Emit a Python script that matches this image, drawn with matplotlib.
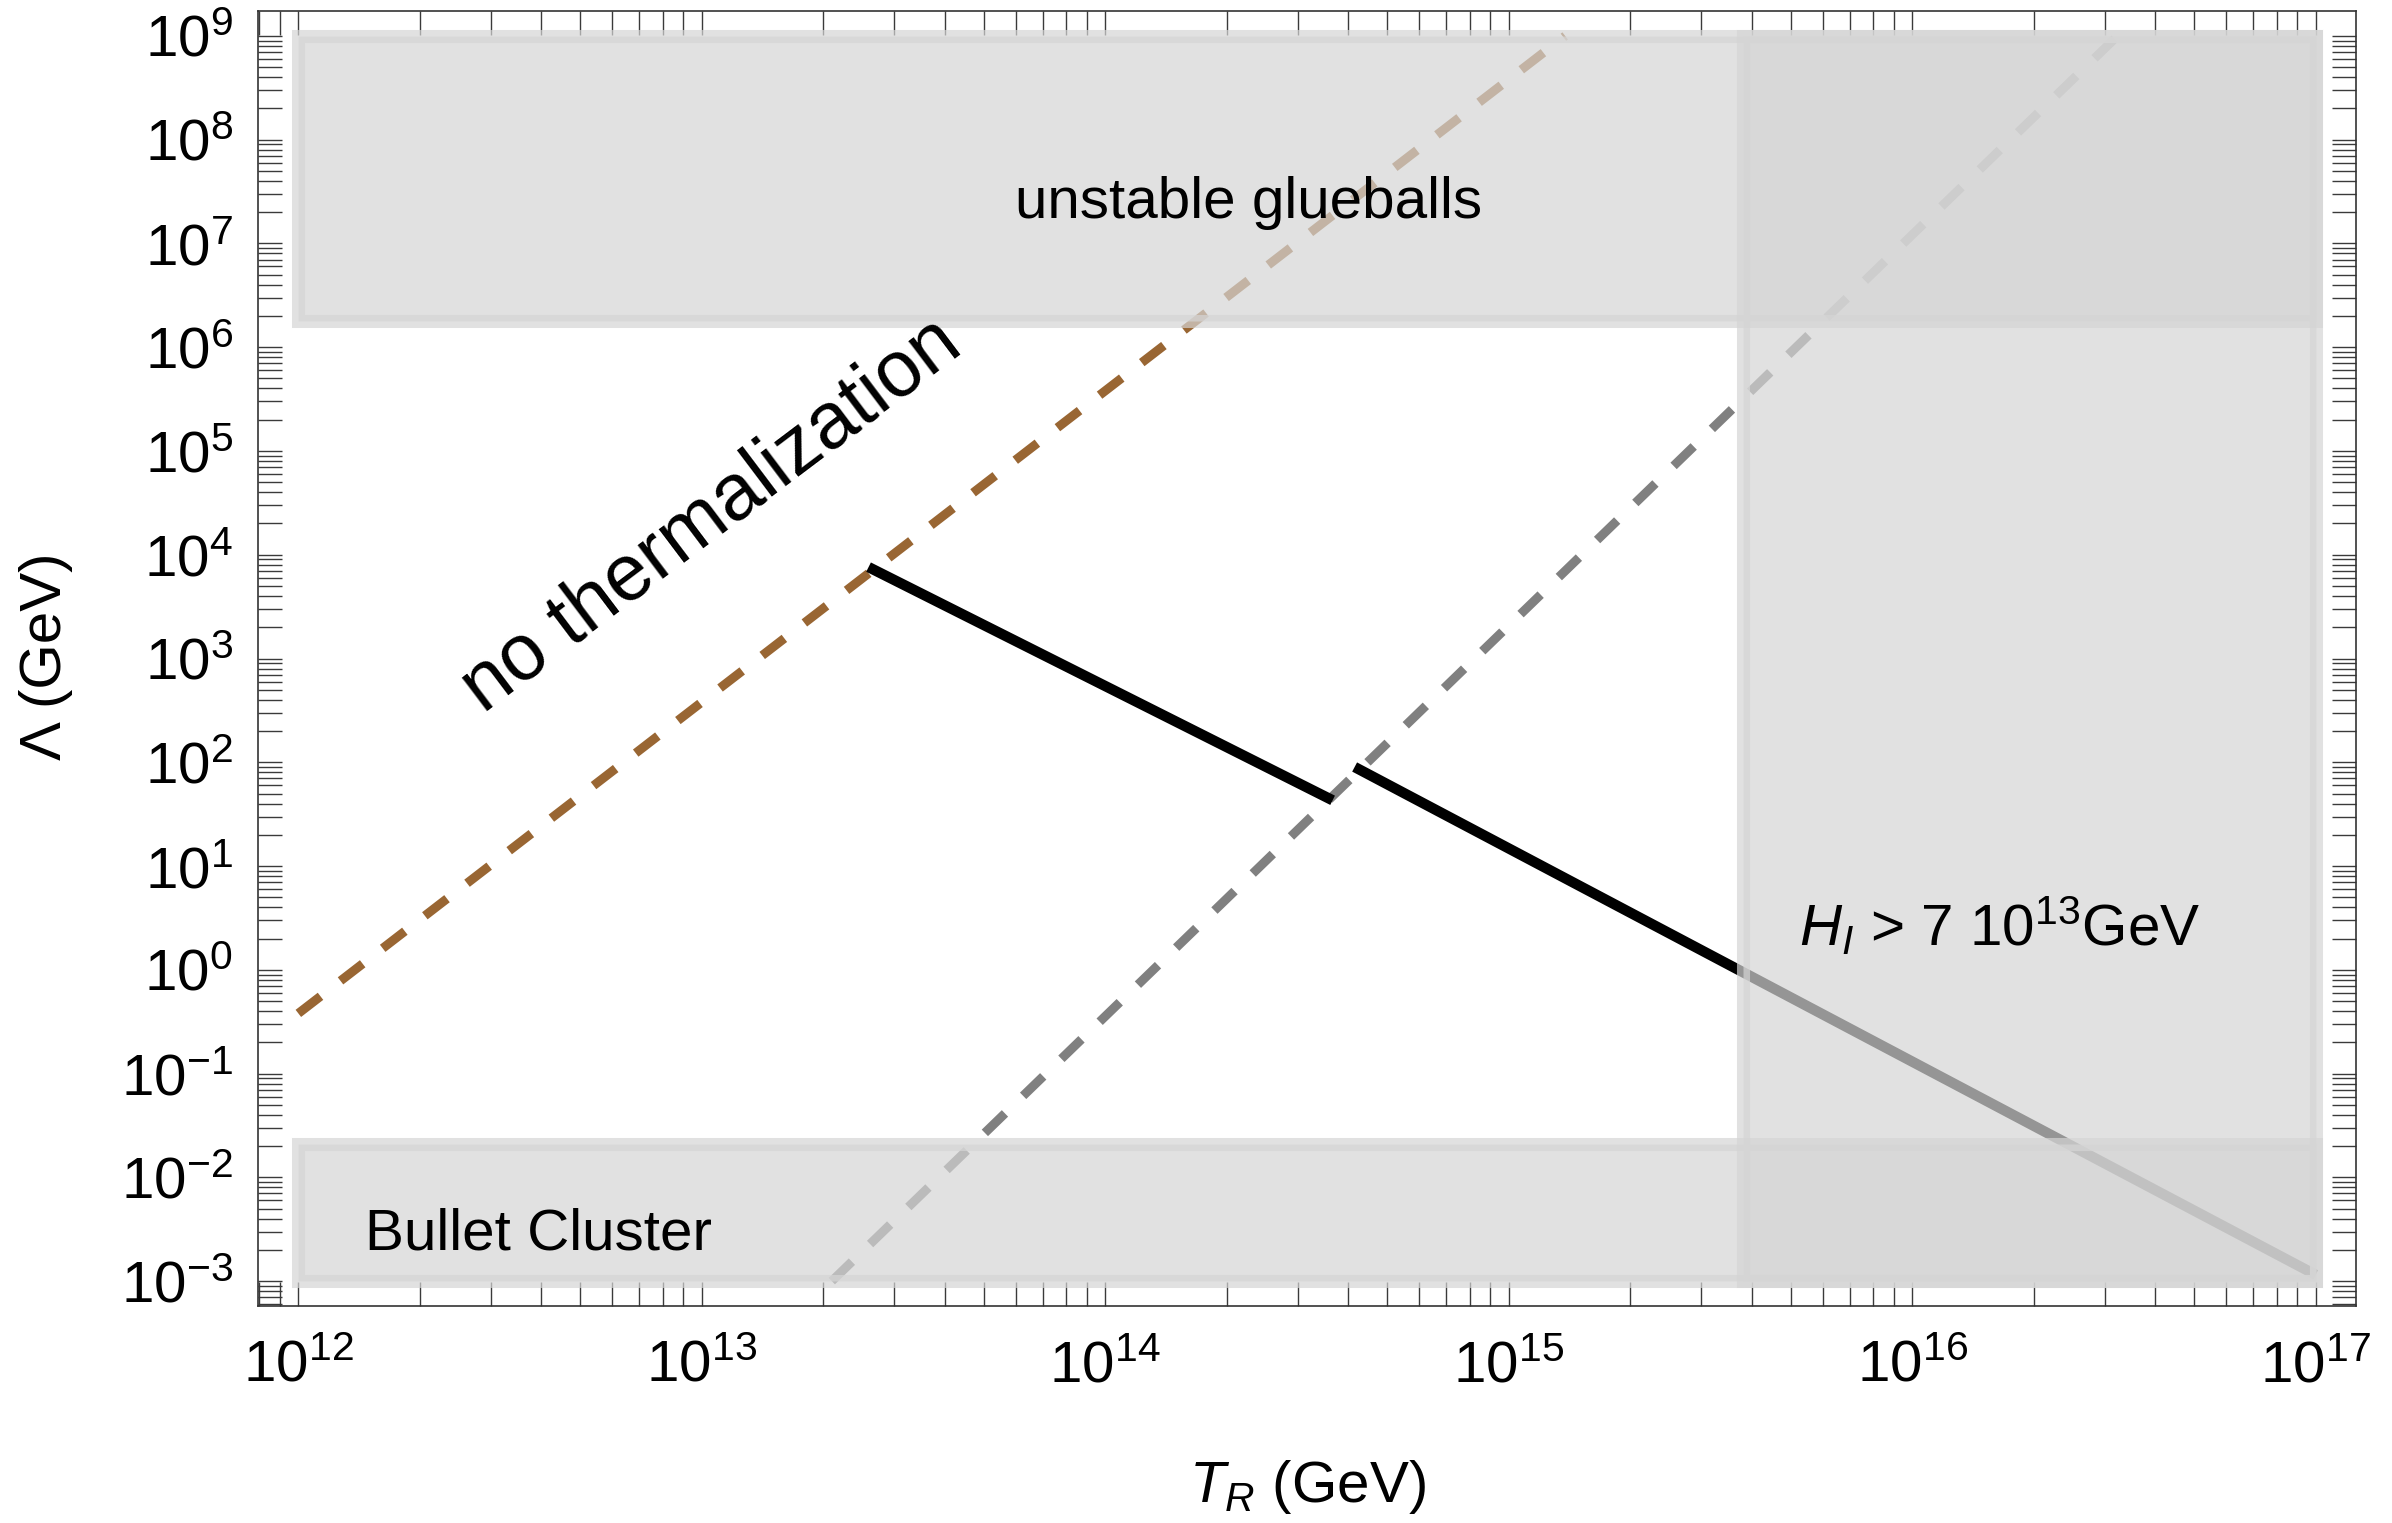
import matplotlib
matplotlib.use("Agg")
import matplotlib.pyplot as plt
from matplotlib.ticker import LogLocator, FixedLocator, FixedFormatter, NullFormatter

plt.rcParams['font.family'] = ['Liberation Sans', 'DejaVu Sans']
plt.rcParams['mathtext.fontset'] = 'custom'
plt.rcParams['mathtext.rm'] = 'Liberation Sans'
plt.rcParams['mathtext.it'] = 'Liberation Sans:italic'
plt.rcParams['mathtext.bf'] = 'Liberation Sans:bold'

# ---------------- data ----------------
x_limits = [10**11.9, 10**17.1]
y_limits = [10**-3.24, 10**9.24]

x_major = [1e12, 1e13, 1e14, 1e15, 1e16, 1e17]
x_major_labels = ['$10^{12}$', '$10^{13}$', '$10^{14}$', '$10^{15}$', '$10^{16}$', '$10^{17}$']
y_major = [1e-3, 1e-2, 1e-1, 1e0, 1e1, 1e2, 1e3, 1e4, 1e5, 1e6, 1e7, 1e8, 1e9]
y_major_labels = ['$10^{-3}$', '$10^{-2}$', '$10^{-1}$', '$10^{0}$', '$10^{1}$', '$10^{2}$',
                  '$10^{3}$', '$10^{4}$', '$10^{5}$', '$10^{6}$', '$10^{7}$', '$10^{8}$', '$10^{9}$']

# no-thermalization boundary (brown dashed)
T_nothermal = [1e12, 1.38e15]
L_nothermal = [0.38, 1e9]
# gray dashed line
T_gray = [2.1e13, 3.23e16]
L_gray = [1e-3, 1e9]
# black solid segments
T_black1 = [2.59e13, 3.66e14]
L_black1 = [7.6e3, 43.0]
T_black2 = [4.15e14, 1e17]
L_black2 = [90.0, 1.15e-3]

# excluded regions: (T_min, T_max, L_min, L_max)
glueball_box = [1e12, 1e17, 1.8e6, 1e9]
bullet_box = [1e12, 1e17, 1e-3, 0.021]
hubble_box = [3.8e15, 1e17, 1e-3, 1e9]

# ---------------- figure ----------------
W, H = 2392, 1523
fig = plt.figure(figsize=(W / 100, H / 100), dpi=100)
left, right, top, bottom = 258, 2356, 11, 1306
ax = fig.add_axes([left / W, 1 - bottom / H, (right - left) / W, (bottom - top) / H])
ax.set_xscale('log')
ax.set_yscale('log')
ax.set_xlim(*x_limits)
ax.set_ylim(*y_limits)

brown = '#996633'
dash_lw = 6.5
dash_pat = (0, (3.1, 2.8))
ax.plot(T_nothermal, L_nothermal, color=brown, lw=dash_lw, linestyle=dash_pat,
        dash_capstyle='butt', zorder=2)
ax.plot(T_gray, L_gray, color='#808080', lw=dash_lw, linestyle=dash_pat,
        dash_capstyle='butt', zorder=2)
ax.plot(T_black1, L_black1, color='black', lw=7.5, solid_capstyle='butt', zorder=2)
ax.plot(T_black2, L_black2, color='black', lw=7.5, solid_capstyle='butt', zorder=2)

region_rgba = (0.837, 0.837, 0.837, 0.7)
for box in (glueball_box, bullet_box, hubble_box):
    x0, x1, y0, y1 = box
    ax.fill([x0, x1, x1, x0], [y0, y0, y1, y1], facecolor=region_rgba,
            edgecolor=region_rgba, linewidth=9.4, joinstyle='miter', zorder=3)

fs = 42
ax.text(2.26e14, 1.76e7, 'unstable glueballs', fontsize=fs, ha='center', va='baseline', zorder=4)
ax.text(1.46e12, 2.0e-3, 'Bullet Cluster', fontsize=fs, ha='left', va='baseline', zorder=4)
ax.text(5.25e15, 1.7, r'$H_I$ > 7 10$^{13}$GeV', fontsize=fs, ha='left', va='baseline', zorder=4)
ax.text(1.06e13, 2.34e4, 'no thermalization', fontsize=57, ha='center', va='center',
        rotation=37, rotation_mode='anchor', zorder=4)

# ticks
ax.xaxis.set_major_locator(FixedLocator(x_major))
ax.xaxis.set_major_formatter(FixedFormatter(x_major_labels))
ax.yaxis.set_major_locator(FixedLocator(y_major))
ax.yaxis.set_major_formatter(FixedFormatter(y_major_labels))
ax.xaxis.set_minor_locator(LogLocator(base=10, subs=[2, 3, 4, 5, 6, 7, 8, 9], numticks=100))
ax.yaxis.set_minor_locator(LogLocator(base=10, subs=[2, 3, 4, 5, 6, 7, 8, 9], numticks=100))
ax.xaxis.set_minor_formatter(NullFormatter())
ax.yaxis.set_minor_formatter(NullFormatter())
ax.tick_params(which='both', direction='in', length=17, width=1.0, color='#3a3a3a',
               top=True, right=True, labelsize=fs)
ax.tick_params(axis='x', which='major', pad=24)
ax.tick_params(axis='y', which='major', pad=18)
for sp in ax.spines.values():
    sp.set_color('#333333')
    sp.set_linewidth(1.2)
    sp.set_zorder(5)

fig.text(1307 / W, 1 - 1487 / H, '$T_R$ (GeV)', fontsize=fs, ha='center', va='center')
fig.text(46 / W, 1 - 656 / H, 'Λ (GeV)', fontsize=fs, ha='center', va='center', rotation=90)

fig.savefig('out.png', dpi=100)
